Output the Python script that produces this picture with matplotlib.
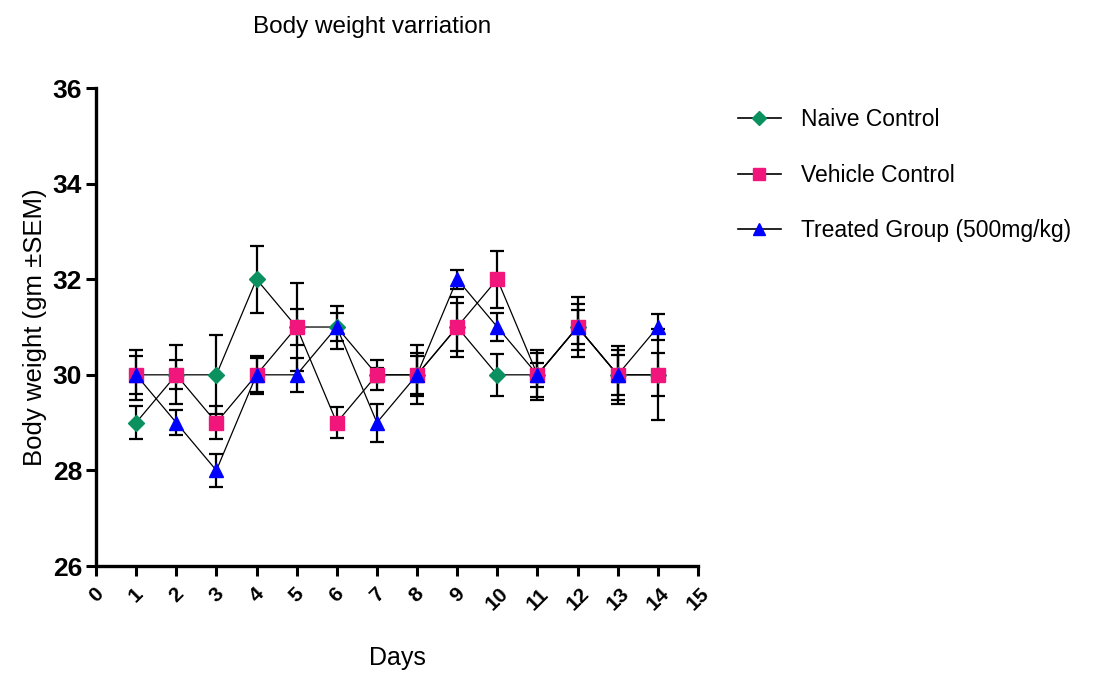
import matplotlib
matplotlib.use("Agg")
import matplotlib.pyplot as plt
from matplotlib.lines import Line2D
from matplotlib import font_manager

days = [1, 2, 3, 4, 5, 6, 7, 8, 9, 10, 11, 12, 13, 14]
naive = [29, 30, 30, 32, 31, 31, 30, 30, 31, 30, 30, 31, 30, 30]
naive_sem = [0.35, 0.3, 0.83, 0.7, 0.37, 0.3, 0.15, 0.62, 0.62, 0.44, 0.52, 0.62, 0.52, 0.45]
vehicle = [30, 30, 29, 30, 31, 29, 30, 30, 31, 32, 30, 31, 30, 30]
vehicle_sem = [0.52, 0.62, 0.35, 0.4, 0.92, 0.33, 0.32, 0.4, 0.5, 0.6, 0.46, 0.48, 0.42, 0.95]
treated = [30, 29, 28, 30, 30, 31, 29, 30, 32, 31, 30, 31, 30, 31]
treated_sem = [0.4, 0.26, 0.35, 0.35, 0.35, 0.45, 0.4, 0.45, 0.2, 0.3, 0.25, 0.35, 0.6, 0.28]
series_names = ["Naive Control", "Vehicle Control", "Treated Group (500mg/kg)"]
x_ticks = list(range(0, 16))
y_ticks = [26, 28, 30, 32, 34, 36]

installed = {f.name for f in font_manager.fontManager.ttflist}
narrow = "Liberation Sans Narrow" if "Liberation Sans Narrow" in installed else "Liberation Sans"
fam = [narrow, "DejaVu Sans"]

colors = ["#0B9160", "#F0167C", "#0000FF"]
markers = ["D", "s", "^"]
msizes = [8, 9.5, 9.5]

fig = plt.figure(figsize=(11.07, 6.74), dpi=100)
ax = fig.add_axes([0.0867, 0.1602, 0.5438, 0.7092])

data = [(naive, naive_sem), (vehicle, vehicle_sem), (treated, treated_sem)]
for i, (vals, sem) in enumerate(data):
    ax.errorbar(days, vals, yerr=sem, fmt="none", ecolor="black", elinewidth=1.6,
                capsize=4.8, capthick=1.6, zorder=2 + i * 0.1)
for i, (vals, sem) in enumerate(data):
    ax.plot(days, vals, color="black", lw=0.9, zorder=3)
for i, (vals, sem) in enumerate(data):
    ax.plot(days, vals, linestyle="none", marker=markers[i], ms=msizes[i],
            mfc=colors[i], mec=colors[i], zorder=4 + i)

ax.set_xlim(0, 15)
ax.set_ylim(26, 36)
ax.set_xticks(x_ticks)
ax.set_yticks(y_ticks)
ax.set_xticklabels([str(t) for t in x_ticks], rotation=45, ha="center",
                   fontsize=15, fontweight="bold", family=fam)
ax.set_yticklabels([str(t) for t in y_ticks], fontsize=19, fontweight="bold", family=fam)
for s in ["top", "right"]:
    ax.spines[s].set_visible(False)
for s in ["left", "bottom"]:
    ax.spines[s].set_linewidth(2.4)
ax.tick_params(axis="both", direction="out", width=2.2, length=7, color="black")
ax.tick_params(axis="x", pad=6)
ax.tick_params(axis="y", pad=3)

ax.set_xlabel("Days", fontsize=18, family=fam, labelpad=23)
ax.set_ylabel("Body weight (gm \u00b1SEM)", fontsize=18.5, family=fam, labelpad=4)
fig.text(372 / 1107, 1 - 27 / 674, "Body weight varriation", fontsize=17.5, family=fam,
         ha="center", va="center")

handles = [Line2D([0], [0], color="black", lw=1.2, marker=markers[i], ms=msizes[i] - 1,
                  mfc=colors[i], mec=colors[i]) for i in range(3)]
fig.legend(handles, series_names, loc="upper left", bbox_to_anchor=(0.658, 0.853),
           frameon=False, prop={"family": fam, "size": 16.5}, handlelength=1.88,
           labelspacing=1.42, handletextpad=0.87, borderaxespad=0)

fig.savefig("out.png", dpi=100)
